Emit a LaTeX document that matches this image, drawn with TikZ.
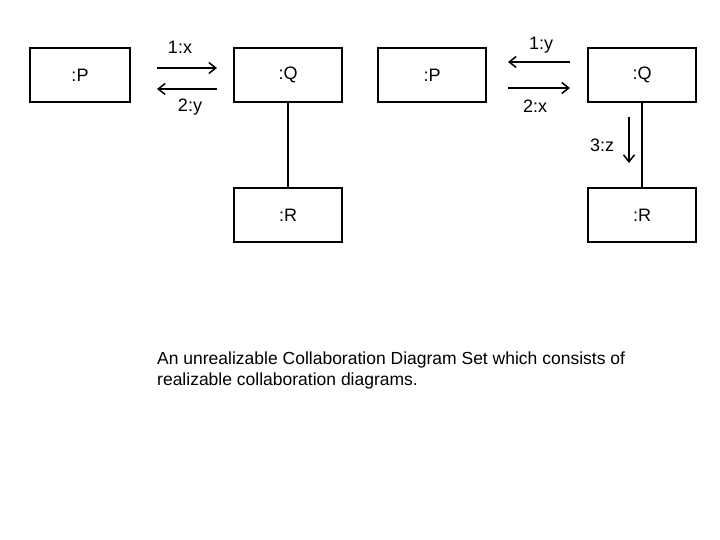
\documentclass[tikz,border=0pt]{standalone}
\usepackage{fontspec}
\setmainfont{Liberation Sans}
\usetikzlibrary{arrows.meta}
\begin{document}
\begin{tikzpicture}[x=1pt,y=-1pt,
  obj/.style={draw,line width=1.5pt,minimum width=108pt,minimum height=54pt,inner sep=0pt,font=\fontsize{18}{20}\selectfont},
  msg/.style={->,line width=1.5pt,>={Straight Barb[length=7pt,width=11pt]}},
  lbl/.style={font=\fontsize{18}{20}\selectfont}]
\useasboundingbox (0,0) rectangle (720,540);
\node[obj,minimum width=100pt] (p1) at (80,75) {:P};
\node[obj] (q1) at (288,75) {:Q};
\node[obj] (r1) at (288,215) {:R};
\node[obj] (p2) at (432,75) {:P};
\node[obj] (q2) at (642,75) {:Q};
\node[obj] (r2) at (642,215) {:R};
\draw[line width=1.5pt] (q1) -- (r1);
\draw[line width=1.5pt] (q2) -- (r2);
\coordinate (a1) at (157,68); \coordinate (a2) at (217,68);
\draw[msg] (a1) -- (a2);
\node[lbl] (l1) at (180,47) {1:x};
\coordinate (b1) at (217,89); \coordinate (b2) at (157,89);
\draw[msg] (b1) -- (b2);
\node[lbl] (l2) at (190,107) {2:y};
\coordinate (c1) at (570,62); \coordinate (c2) at (508,62);
\draw[msg] (c1) -- (c2);
\node[lbl] (l3) at (541,45) {1:y};
\coordinate (d1) at (508,88); \coordinate (d2) at (570,88);
\draw[msg] (d1) -- (d2);
\node[lbl] (l4) at (535,106) {2:x};
\coordinate (e1) at (629,117); \coordinate (e2) at (629,163);
\draw[msg] (e1) -- (e2);
\node[lbl] (l5) at (602,145) {3:z};
\node[lbl,anchor=north west,align=left,inner sep=0pt,font=\fontsize{17.5}{21}\selectfont] (cap) at (157,352) {An unrealizable Collaboration Diagram Set which consists of\\realizable collaboration diagrams.};
\end{tikzpicture}
\end{document}
